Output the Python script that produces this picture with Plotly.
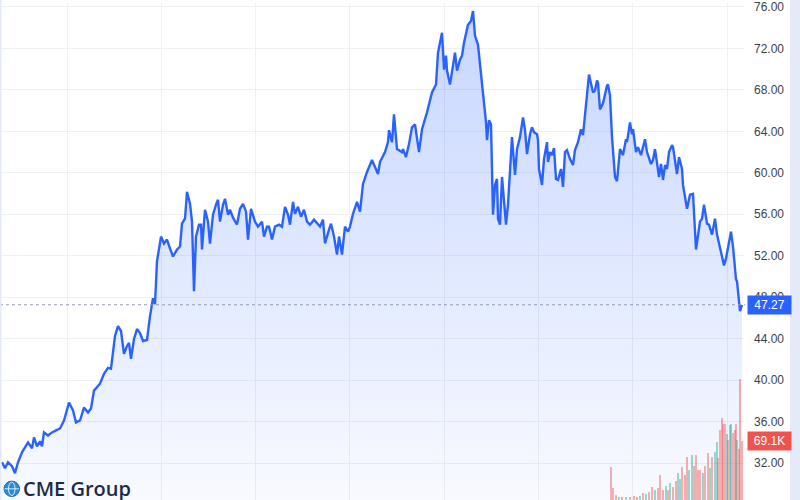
import plotly.graph_objects as go

# session index (roughly one per day) and settle price
day = [2, 5, 8, 12, 15, 18, 22, 26, 28, 32, 34, 37, 40, 42, 44, 48, 52, 56, 60, 64,
       69, 73, 76, 80, 84, 88, 91, 94, 98, 100, 104, 108, 111, 115, 118, 121, 124, 127, 129, 131,
       134, 137, 140, 143, 147, 150, 153, 155, 157, 161, 164, 167, 170, 173, 177, 180, 182, 185, 187, 190,
       192, 194, 196, 199, 201, 202, 205, 208, 210, 213, 216, 218, 220, 223, 225, 228, 230, 233, 237, 240,
       243, 246, 248, 251, 255, 258, 262, 264, 267, 269, 272, 275, 279, 282, 285, 288, 290, 293, 295, 298,
       301, 304, 307, 310, 314, 317, 320, 323, 325, 329, 331, 334, 337, 339, 342, 345, 348, 350, 353, 357,
       360, 363, 367, 372, 374, 378, 380, 385, 388, 389, 392, 394, 397, 402, 403, 406, 409, 412, 415, 417,
       419, 422, 427, 432, 436, 438, 442, 444, 446, 447, 450, 453, 455, 457, 460, 462, 464, 468, 471, 473,
       475, 478, 481, 484, 486, 487, 489, 491, 493, 495, 497, 498, 500, 502, 504, 506, 508, 512, 515, 517,
       520, 523, 525, 527, 530, 532, 534, 537, 538, 539, 542, 544, 547, 548, 550, 552, 554, 556, 558, 561,
       563, 565, 567, 570, 573, 575, 578, 581, 583, 587, 589, 593, 595, 597, 598, 600, 603, 607, 608, 610,
       612, 615, 617, 620, 623, 626, 627, 630, 632, 633, 636, 638, 641, 645, 647, 651, 653, 655, 657, 659,
       661, 663, 665, 667, 669, 672, 673, 677, 679, 682, 683, 687, 690, 693, 696, 700, 702, 704, 707, 709,
       712, 715, 717, 721, 724, 726, 728, 731, 733, 736, 737, 740, 742]
price = [32.08, 31.51, 32.08, 31.70, 31.03, 32.08, 33.04, 33.71, 34.00, 33.43, 34.48, 33.62, 34.10, 33.62, 34.96, 34.67, 34.96, 35.15, 35.34, 36.11,
         37.84, 37.07, 35.92, 36.11, 37.36, 36.88, 37.26, 38.99, 39.47, 39.66, 40.62, 41.19, 41.10, 44.26, 45.22, 44.74, 42.53, 43.30, 43.59, 42.05,
         43.97, 44.93, 44.55, 43.78, 43.88, 46.18, 47.90, 47.33, 51.45, 53.85, 53.18, 53.56, 52.70, 51.93, 52.60, 52.89, 55.09, 55.57, 58.16, 57.01,
         55.29, 48.57, 53.85, 55.00, 55.00, 52.60, 56.44, 55.29, 53.18, 55.96, 56.92, 57.40, 55.29, 56.92, 57.49, 55.96, 56.44, 55.67, 55.00, 56.53,
         57.01, 56.25, 53.56, 56.53, 55.29, 54.81, 55.29, 53.85, 54.81, 54.81, 53.56, 54.81, 55.00, 54.81, 56.72, 55.96, 55.00, 57.20, 56.05, 56.72,
         55.77, 56.44, 55.29, 55.00, 55.48, 55.09, 54.81, 55.48, 53.18, 54.52, 55.09, 53.85, 52.12, 53.85, 52.12, 54.81, 54.33, 54.81, 56.05, 57.20,
         56.25, 58.93, 60.08, 61.23, 60.75, 59.89, 61.04, 62.00, 62.96, 64.11, 62.96, 65.64, 62.29, 62.00, 62.29, 61.52, 62.77, 64.39, 64.68, 63.24,
         62.00, 64.20, 65.83, 67.75, 68.52, 71.59, 73.50, 69.96, 71.30, 69.86, 68.52, 70.34, 71.59, 69.86, 70.91, 71.30, 72.54, 74.27, 74.65, 75.61,
         73.22, 72.35, 69.67, 66.79, 64.87, 63.15, 65.07, 64.68, 55.96, 58.83, 59.41, 55.57, 55.00, 59.60, 56.92, 55.00, 56.92, 63.44, 59.79, 62.29,
         63.44, 65.35, 64.11, 61.81, 63.72, 64.39, 63.92, 63.72, 63.15, 60.37, 58.83, 61.33, 62.96, 61.04, 62.00, 61.71, 62.38, 59.41, 59.31, 60.37,
         58.64, 62.00, 62.19, 61.33, 60.75, 62.19, 62.96, 64.20, 63.63, 67.46, 69.48, 67.75, 67.94, 68.90, 68.71, 66.12, 66.70, 68.42, 68.52, 67.46,
         63.44, 59.60, 59.20, 62.29, 61.71, 63.24, 62.96, 64.87, 63.72, 64.20, 62.00, 62.48, 61.71, 63.24, 62.00, 60.85, 61.23, 62.29, 61.04, 59.60,
         60.85, 59.31, 60.75, 60.37, 62.00, 62.67, 62.48, 59.89, 61.52, 60.37, 58.83, 56.53, 57.88, 57.97, 52.60, 55.29, 55.57, 56.92, 55.09, 55.00,
         54.04, 55.57, 54.04, 52.41, 51.07, 51.74, 52.70, 54.33, 52.89, 49.73, 49.53, 46.66, 47.27]

# volume (thousands of contracts), True = up session
vol_day = [611, 613, 616, 619, 622, 626, 630, 634, 637, 640, 643, 646, 649, 652, 655, 658, 660, 663, 666, 668,
           670, 673, 676, 678, 680, 682, 685, 687, 689, 692, 694, 696, 698, 700, 703, 705, 708, 710, 712, 715,
           717, 718, 720, 722, 723, 725, 727, 728, 730, 731, 733, 735, 736, 737, 739, 740, 742]
vol_k = [38.6, 14.0, 6.0, 4.0, 3.0, 4.0, 3.5, 4.5, 3.5, 5.0, 8.2, 7.0, 10.0, 15.2, 12.0, 14.0, 29.3, 11.7, 16.0, 12.0,
         19.9, 15.2, 22.0, 31.6, 25.0, 38.6, 30.0, 50.3, 35.0, 52.7, 40.0, 52.7, 35.0, 35.1, 31.6, 40.0, 55.0, 38.0, 50.3, 56.2,
         67.9, 50.0, 81.9, 97.1, 90.0, 90.0, 77.2, 70.2, 87.8, 90.0, 78.4, 81.9, 90.0, 70.2, 60.0, 142.7, 69.1]
vol_up = [False, False, False, True, False, True, False, False, False, True, False, True, False, False, True, False, False, False, True, False,
          True, False, False, True, True, False, False, False, True, True, False, False, False, False, True, False, False, True, False, True,
          True, False, False, False, False, False, True, False, True, True, False, False, False, True, False, False, False]

price_ticks = [28, 32, 36, 40, 44, 48, 52, 56, 60, 64, 68, 72, 76]
last_price = 47.27
last_vol = 69.1

BLUE = "#2962ff"
RED = "#ef5350"
GRID = "#eef0f4"

fig = go.Figure()

# volume first, on its own hidden scale
fig.add_trace(go.Bar(
    x=vol_day, y=vol_k, yaxis="y2", width=1.3,
    marker=dict(color=["rgba(38,166,154,0.45)" if u else "rgba(239,83,80,0.45)" for u in vol_up],
                line=dict(width=0)),
    hoverinfo="skip", showlegend=False,
))

fig.add_trace(go.Scatter(
    x=day, y=price, mode="lines",
    line=dict(color=BLUE, width=2.4),
    fill="tozeroy",
    fillgradient=dict(type="vertical", start=28.4, stop=max(price),
                      colorscale=[[0, "rgba(41,98,255,0.03)"], [1, "rgba(41,98,255,0.26)"]]),
    showlegend=False,
))

fig.update_layout(
    width=800, height=500,
    margin=dict(l=0, r=55, t=0, b=0),
    paper_bgcolor="white", plot_bgcolor="white",
    font=dict(family="Liberation Sans, Arial, sans-serif", color="#2a2e39", size=12),
    bargap=0,
    xaxis=dict(range=[0, 745], tick0=67, dtick=94.3, showticklabels=False, ticks="",
               showgrid=True, gridcolor=GRID, gridwidth=1, zeroline=False, showline=False),
    yaxis=dict(side="right", range=[28.44, 76.38], tickvals=price_ticks,
               ticktext=[f"{t:.2f}" for t in price_ticks], ticks="", ticklabelstandoff=8,
               ticklabeloverflow="allow",
               showgrid=True, gridcolor=GRID, gridwidth=1, zeroline=False, showline=False,
               tickfont=dict(size=12, color="#3b3f4a")),
    yaxis2=dict(overlaying="y", range=[0, 585], visible=False, showgrid=False),
)

# last price marker line
fig.add_shape(type="line", xref="x", yref="y", x0=0, x1=745, y0=last_price, y1=last_price,
              line=dict(color="#8f99b8", width=1, dash="dot"))

# light frame strips at the screenshot edges
fig.add_shape(type="rect", xref="paper", yref="paper", x0=790 / 745, x1=1.1, y0=-0.02, y1=1.02,
              fillcolor="#e5eafa", line=dict(width=0), layer="above")
fig.add_shape(type="rect", xref="paper", yref="paper", x0=-0.01, x1=1.5 / 745, y0=-0.02, y1=1.02,
              fillcolor="#e5eafa", line=dict(width=0), layer="above")

fig.add_annotation(xref="paper", yref="y", x=1, xshift=2, y=last_price, xanchor="left",
                   text=f"{last_price:.2f}", showarrow=False, bgcolor=BLUE, borderpad=2, width=39,
                   font=dict(color="white", size=12))
fig.add_annotation(xref="paper", yref="y2", x=1, xshift=2, y=last_vol, xanchor="left",
                   text=f"{last_vol}K", showarrow=False, bgcolor=RED, borderpad=2, width=39,
                   font=dict(color="white", size=12))

# CME Group mark, bottom left
fig.add_shape(type="circle", xref="paper", yref="paper", x0=4 / 745, x1=19.5 / 745, y0=0.007, y1=0.038,
              fillcolor="#2a8bd6", line=dict(color="#1d6fb8", width=1), layer="above")
fig.add_shape(type="circle", xref="paper", yref="paper", x0=8.5 / 745, x1=15 / 745, y0=0.009, y1=0.036,
              line=dict(color="white", width=0.8), layer="above")
fig.add_shape(type="line", xref="paper", yref="paper", x0=4.5 / 745, x1=19 / 745, y0=0.0225, y1=0.0225,
              line=dict(color="white", width=0.8), layer="above")
fig.add_annotation(xref="paper", yref="paper", x=21 / 745, y=0.024, xanchor="left", yanchor="middle",
                   text="CME Group", showarrow=False,
                   font=dict(family="Open Sans", size=20, color="#1c2a4a", weight=600))

# drop the default page margin so the 800x500 figure fills the window exactly
fig.write_html("out.html", config={"displayModeBar": False},
               post_script="document.body.style.margin='0';document.body.style.overflow='hidden';")
